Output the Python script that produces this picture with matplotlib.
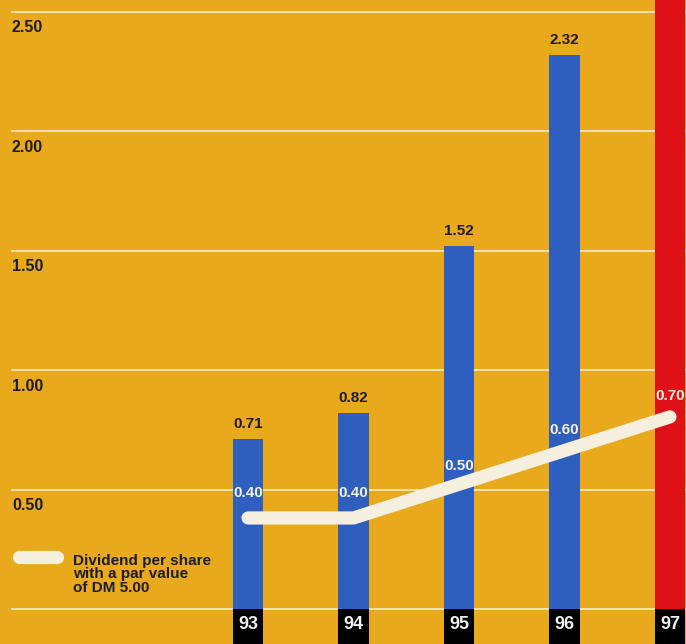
import matplotlib
matplotlib.use("Agg")
from matplotlib import pyplot as plt
from matplotlib import transforms

plt.rcParams['font.family'] = ['Liberation Sans', 'DejaVu Sans']

years = ['93', '94', '95', '96', '97']
earnings = [0.71, 0.82, 1.52, 2.32, 2.90]
earnings_labels = ['0.71', '0.82', '1.52', '2.32', None]
dividend = [0.40, 0.40, 0.50, 0.60, 0.70]
grid_values = [0.0, 0.50, 1.00, 1.50, 2.00, 2.50]
grid_labels = ['', '0.50', '1.00', '1.50', '2.00', '2.50']

ORANGE = '#E8A91C'
BLUE = '#2E5FBF'
RED = '#DE1216'
CREAM = '#F4EFDF'
INK = '#1E1C2A'
GRID = '#F6E7BC'

fig = plt.figure(figsize=(6.86, 6.44), dpi=100)
ax = fig.add_axes([0, 0, 1, 1])
ax.set_facecolor(ORANGE)
ax.set_xlim(-2.351, 4.152)
ax.set_ylim(-0.1466, 2.550)
ax.axis('off')
fig.patch.set_facecolor(ORANGE)

x = list(range(len(years)))
width = 0.285

# horizontal guide lines behind the bars
for v in grid_values:
    ax.axhline(v, xmin=12 / 686, color=GRID, lw=1.3, zorder=1)

blend = transforms.blended_transform_factory(ax.transAxes, ax.transData)
for v, lab in zip(grid_values, grid_labels):
    if lab:
        ax.annotate(lab, xy=(12 / 686, v), xycoords=blend, xytext=(0, -16),
                    textcoords='offset pixels', ha='left', va='center',
                    fontsize=11.5, fontweight='bold', color=INK)

colors = [BLUE] * 4 + [RED]
ax.bar(x, earnings, width=width, color=colors, zorder=2)
for xi, v, lab in zip(x, earnings, earnings_labels):
    if lab:
        ax.annotate(lab, xy=(xi, v), xytext=(0, 15), textcoords='offset pixels',
                    ha='center', va='center', fontsize=11, fontweight='bold',
                    color=INK, zorder=5)

# year boxes under the baseline
lo = ax.get_ylim()[0]
ax.bar(x, -lo, bottom=lo, width=width, color='black', zorder=3)
for xi, y in zip(x, years):
    ax.annotate(y, xy=(xi, lo / 2), xytext=(0, 2), textcoords='offset pixels',
                ha='center', va='center', fontsize=13, fontweight='bold',
                color='#F2F2F2', zorder=4)

# dividend line on its own scale
ax2 = ax.twinx()
ax2.set_ylim(0.026, 1.937)
ax2.axis('off')
ax2.plot(x, dividend, color=CREAM, lw=9.5, solid_capstyle='round',
         solid_joinstyle='round', zorder=6)
offsets = [25, 25, 18, 21, 21]
for xi, v, off in zip(x, dividend, offsets):
    ax2.annotate(f'{v:.2f}', xy=(xi, v), xytext=(0, off), textcoords='offset pixels',
                 ha='center', va='center', fontsize=11, fontweight='bold',
                 color=CREAM, zorder=7)

# legend
ax.plot([19 / 686, 57 / 686], [1 - 557 / 644] * 2, transform=ax.transAxes,
        color=CREAM, lw=9.5, solid_capstyle='round', zorder=6)
ax.text(73 / 686, 1 - 554 / 644, 'Dividend per share\nwith a par value\nof DM 5.00',
        transform=ax.transAxes, ha='left', va='top', fontsize=11,
        fontweight='bold', color=INK, linespacing=0.95)

fig.savefig('out.png', dpi=100, facecolor=ORANGE)
